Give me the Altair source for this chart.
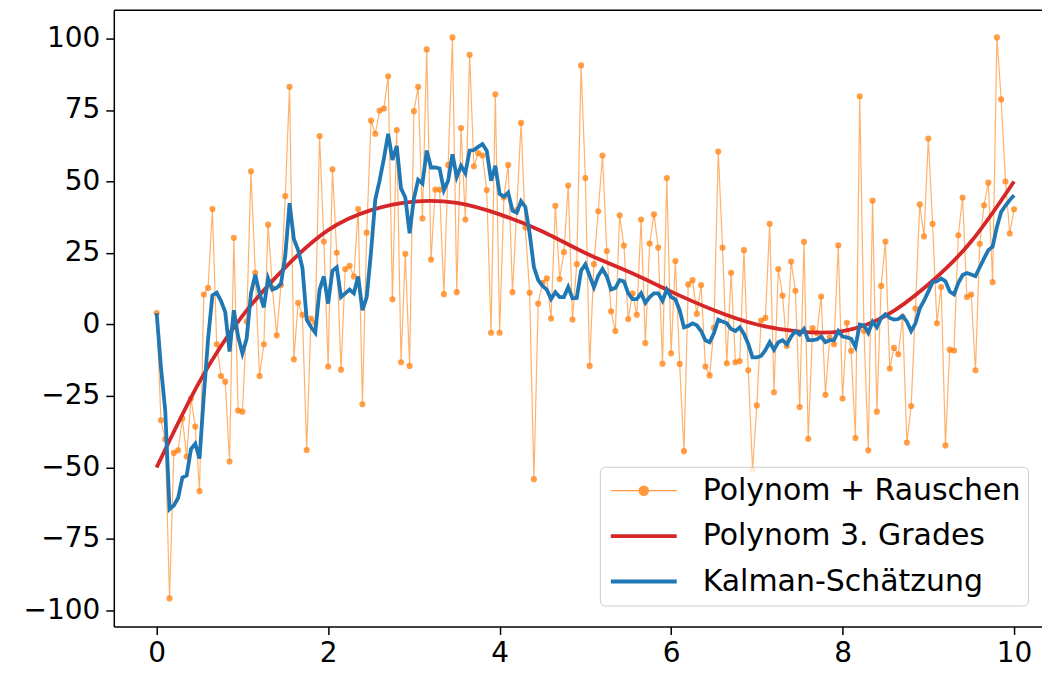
import altair as alt
import numpy as np
import pandas as pd

S1, S2, S3 = "Polynom + Rauschen", "Polynom 3. Grades", "Kalman-Schätzung"
ORANGE, RED, BLUE = "#ff7f0e", "#d62728", "#1f77b4"

# sample positions (201 samples between 0 and 10)
x_samples = np.round(np.linspace(0, 10, 201), 2)

noise = [
    4.0, -33.5, -40.1, -95.8, -44.9, -44.0, -32.9, -46.2, -25.9, -35.7,
    -58.3, 10.5, 12.8, 40.4, -6.9, -18.0, -20.0, -47.9, 30.3, -30.1,
    -30.5, 1.0, 53.6, 18.1, -18.0, -6.9, 34.9, 12.8, -3.8, 13.8,
    44.9, 83.1, -12.2, 7.6, 3.4, -43.9, 2.1, 0.5, 65.9, 29.0,
    -14.7, 54.3, 25.1, -15.8, 19.4, 20.5, 16.8, 40.4, -27.9, 32.1,
    71.3, 66.7, 74.8, 75.5, 86.8, 8.8, 68.0, -13.2, 24.7, -14.5,
    74.6, 83.1, 37.1, 96.2, 22.7, 47.2, 47.2, 10.6, 55.8, 100.4,
    11.3, 68.7, 36.7, 94.3, 55.3, 59.9, 59.1, 47.0, -2.9, 80.5,
    -2.9, 44.4, 55.8, 11.3, 40.0, 70.5, 33.9, 11.1, -54.1, 7.3,
    14.6, 16.1, 2.1, 41.5, 15.9, 25.3, 48.6, 1.7, 21.1, 90.6,
    51.2, -14.5, 21.1, 39.6, 59.1, 25.7, 4.6, -2.3, 38.2, 27.6,
    1.9, 10.9, 3.4, 36.7, -6.5, 28.3, 38.5, 26.9, -13.7, 51.2,
    -10.1, 22.2, -13.8, -44.3, 14.0, 15.5, 3.7, 13.8, -14.7, -17.8,
    -1.2, 60.5, 26.9, -13.6, 18.1, -13.2, -12.8, 26.0, -16.0, -50.8,
    -28.3, 1.4, 2.3, 35.2, -23.7, 19.4, 10.1, -7.5, 22.0, 11.8,
    -28.9, 28.9, -40.0, -1.3, -3.0, 9.8, -24.6, -4.6, -6.9, 27.7,
    -25.9, 0.6, -9.2, -39.7, 79.8, -2.3, -44.0, 43.3, -30.5, 13.5,
    29.0, -15.4, -8.2, -10.4, 2.7, -41.3, -28.5, 5.6, 42.0, 30.8,
    65.0, 35.2, 0.4, 13.1, -42.3, -8.8, -9.1, 31.2, 44.4, 9.6,
    10.5, -16.0, 28.2, 41.7, 49.6, 14.8, 100.4, 78.7, 50.0, 31.8,
    40.3,
]

kalman = [
    4.0, -15.0, -30.0, -64.6, -63.3, -60.7, -53.5, -52.8, -43.6, -41.7,
    -46.9, -25.0, -5.0, 10.2, 11.1, 8.3, 4.3, -9.5, 5.0, -4.2,
    -10.1, -4.9, 10.9, 17.4, 10.9, 6.0, 16.1, 12.2, 12.8, 14.2,
    24.0, 42.4, 29.9, 26.0, 19.8, 1.7, -0.9, -2.9, 12.2, 16.8,
    7.3, 18.8, 20.0, 9.6, 10.9, 12.2, 10.9, 16.8, 5.0, 9.6,
    25.3, 43.7, 50.3, 58.0, 66.7, 57.5, 62.4, 47.6, 44.4, 31.9,
    44.0, 50.6, 49.3, 60.8, 54.9, 54.9, 54.5, 47.0, 50.3, 59.5,
    51.6, 55.5, 52.9, 60.8, 61.0, 62.1, 63.1, 60.8, 50.3, 55.5,
    45.7, 44.7, 46.1, 39.8, 39.1, 43.1, 41.1, 31.9, 20.1, 15.5,
    13.5, 12.2, 8.9, 11.3, 9.6, 9.6, 13.1, 9.2, 9.3, 18.8,
    21.0, 17.0, 13.0, 17.0, 19.4, 16.8, 12.2, 12.8, 15.5, 15.1,
    10.9, 8.9, 8.9, 10.9, 7.6, 9.6, 10.9, 10.9, 8.3, 12.2,
    9.6, 8.8, 5.0, -1.0, -0.5, 0.4, -0.3, -2.3, -5.5, -6.2,
    -3.0, 1.7, 1.0, 0.4, -1.6, -2.3, -1.0, -3.3, -6.8, -11.5,
    -11.5, -11.0, -9.0, -6.2, -8.8, -6.2, -5.5, -6.9, -4.2, -2.3,
    -3.5, -1.6, -5.5, -5.5, -5.2, -4.2, -6.2, -5.5, -5.5, -2.3,
    -4.2, -4.5, -5.0, -7.8, 0.0, -0.3, -2.9, 1.0, -1.0, 2.3,
    3.6, 2.3, 1.7, 1.9, 3.0, 1.0, -2.3, 0.4, 5.6, 8.3,
    11.5, 14.8, 15.1, 16.1, 15.1, 11.5, 10.5, 14.5, 17.3, 18.0,
    17.5, 16.9, 20.0, 23.1, 26.0, 27.2, 34.1, 39.4, 41.6, 43.5,
    45.2,
]

poly_x = [0, 0.5, 1, 1.5, 2, 2.5, 3, 3.5, 4, 4.5, 5, 5.5, 6, 6.5, 7, 7.5,
          8, 8.5, 9, 9.5, 10]
poly_y = [-50, -20, 3, 20, 33, 40, 43, 42.5, 38.5, 32.5, 25, 18.5, 11.5, 5,
          0, -2.5, -2.3, 3, 14, 29, 50]

x_ticks = [0, 2, 4, 6, 8, 10]
y_ticks = [-100, -75, -50, -25, 0, 25, 50, 75, 100]

df_noise = pd.DataFrame({"x": x_samples, "y": noise, "series": S1})
df_poly = pd.DataFrame({"x": poly_x, "y": poly_y, "series": S2})
df_kal = pd.DataFrame({"x": x_samples, "y": kalman, "series": S3})

FONT = "DejaVu Sans"
TICK_FS = 28
LEG_FS = 30
x_scale = alt.Scale(domain=[-0.5, 10.326], nice=False, zero=False)
y_scale = alt.Scale(domain=[-105.6, 110.1], nice=False, zero=False)
color_scale = alt.Scale(domain=[S1, S2, S3], range=[ORANGE, RED, BLUE])

y_axis = alt.Axis(values=y_ticks, title=None, grid=False, labelFontSize=TICK_FS,
                  labelFont=FONT, labelColor="black", tickColor="black",
                  tickSize=8, tickWidth=1.5, domainColor="black",
                  domainWidth=1.5, labelPadding=6)
x_axis = alt.Axis(values=x_ticks, title=None, grid=False, labelFontSize=TICK_FS,
                  labelFont=FONT, labelColor="black", tickColor="black",
                  tickSize=8, tickWidth=1.5, domainColor="black",
                  domainWidth=1.5, labelPadding=5, orient="bottom")
x_axis_top = alt.Axis(orient="top", labels=False, ticks=False, grid=False,
                      title=None, domainColor="black", domainWidth=1.5)

DOT = "M-1,0H1M-0.14,0A0.14,0.14,0,1,0,0.14,0A0.14,0.14,0,1,0,-0.14,0Z"
first = f"datum.value === '{S1}'"
legend = alt.Legend(
    title=None, orient="none", legendX=487, legendY=458,
    labelFontSize=LEG_FS, labelFont=FONT, labelColor="black", labelLimit=600,
    symbolType={"expr": f"{first} ? '{DOT}' : 'stroke'"},
    symbolStrokeWidth={"expr": f"{first} ? 1.3 : 4"},
    symbolFillColor={"expr": f"{first} ? '{ORANGE}' : 'transparent'"},
    symbolOpacity={"expr": f"{first} ? 0.8 : 1"},
    symbolSize=4356, symbolOffset=22, clipHeight=34, rowPadding=11.5,
    padding=7, labelOffset=44, fillColor="rgba(255,255,255,0.8)",
    strokeColor="#cccccc", cornerRadius=5,
)

color = alt.Color("series:N", scale=color_scale, legend=legend)

noise_line = alt.Chart(df_noise).mark_line(strokeWidth=1.2, opacity=0.6, clip=True).encode(
    x=alt.X("x:Q", scale=x_scale, axis=x_axis),
    y=alt.Y("y:Q", scale=y_scale, axis=y_axis),
    color=color,
)
noise_pts = alt.Chart(df_noise).mark_circle(size=38, opacity=0.75, color=ORANGE, clip=True).encode(
    x=alt.X("x:Q", scale=x_scale, axis=x_axis_top),
    y=alt.Y("y:Q", scale=y_scale, axis=y_axis),
)
poly_line = alt.Chart(df_poly).mark_line(strokeWidth=3.8, interpolate="natural", clip=True).encode(
    x=alt.X("x:Q", scale=x_scale, axis=None),
    y=alt.Y("y:Q", scale=y_scale, axis=y_axis),
    color=color,
)
kal_line = alt.Chart(df_kal).mark_line(strokeWidth=3.8, clip=True).encode(
    x=alt.X("x:Q", scale=x_scale, axis=None),
    y=alt.Y("y:Q", scale=y_scale, axis=y_axis),
    color=color,
)

chart = alt.layer(noise_line, noise_pts, poly_line, kal_line).resolve_axis(
    x="independent"
).properties(
    width=930, height=618,
    autosize=alt.AutoSizeParams(type="none"),
    padding={"left": 106, "top": 1, "right": 0, "bottom": 50},
    background="white",
).configure_view(stroke=None)

chart.save("out.html", embed_options={"renderer": "svg", "actions": False})
